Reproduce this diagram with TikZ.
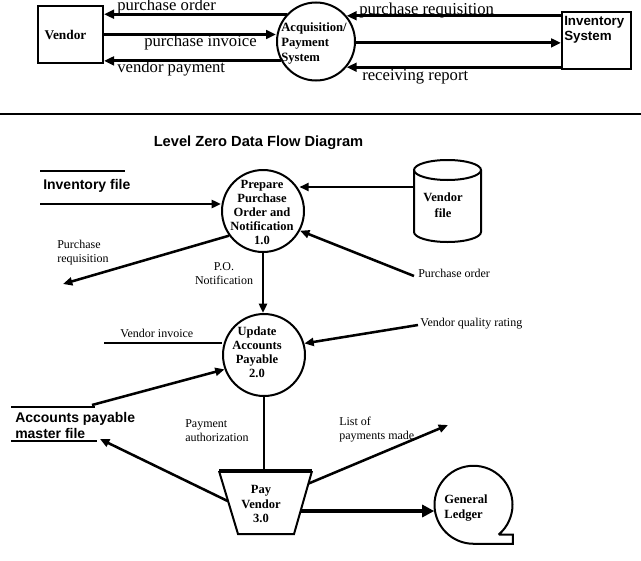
\documentclass[tikz,border=0pt]{standalone}
\usepackage{fontspec}
\setmainfont{Liberation Serif}
\newfontfamily\arialf{Liberation Sans}
\usetikzlibrary{arrows.meta,calc}
\begin{document}
\begin{tikzpicture}[x=0.75pt,y=-0.75pt,
  box/.style={draw,line width=1.5pt,inner sep=0pt},
  proc/.style={draw,circle,line width=1.5pt,inner sep=0pt,minimum size=#1*0.75pt},
  thinline/.style={line width=1.5pt},
  arrT/.style={line width=2.2pt,-{Triangle[length=7.5pt,width=6.5pt]}},
  arrL/.style={line width=1.9pt,-{Triangle[length=7pt,width=6pt]}},
  arrG/.style={line width=3.6pt,-{Triangle[length=9pt,width=9pt]}},
  toplab/.style={font=\fontsize{12.5}{14}\selectfont,inner sep=0pt},
  lab/.style={font=\fontsize{9}{10.5}\selectfont,inner sep=0pt},
  ptext/.style={font=\bfseries\fontsize{9.4}{10.4}\selectfont,align=center,inner sep=0pt},
  sanslab/.style={font=\arialf\bfseries\fontsize{10.5}{12}\selectfont,inner sep=0pt}
]
\useasboundingbox (0,0) rectangle (641,560);

% ---------- context diagram ----------
\node[box,minimum width=65*0.75pt,minimum height=57*0.75pt] (vendor) at (70.5,34.5) {};
\node[font=\bfseries\fontsize{10}{12}\selectfont,inner sep=0pt] (vendort) at (65.5,35) {Vendor};
\node[proc=78] (acq) at (316,41.5) {};
\node[font=\bfseries\fontsize{9.5}{10.9}\selectfont,align=left,anchor=west,inner sep=0pt] (acqt) at (281,43.5) {Acquisition/\\Payment\\System};
\node[box,minimum width=69*0.75pt,minimum height=57*0.75pt] (inv) at (596.5,40.5) {};
\node[font=\arialf\bfseries\fontsize{10}{11.25}\selectfont,align=left,anchor=west,inner sep=0pt] (invt) at (564,29.5) {Inventory\\System};

\draw[arrT] (acq.137) -- (acq.137 -| vendor.east);
\draw[arrT] (vendor.east) -- (vendor.east -| acq.west);
\draw[arrT] (acq.209) -- (acq.209 -| vendor.east);
\draw[arrT] (acq.40 -| inv.west) -- (acq.40);
\draw[arrT] (acq.-2) -- (acq.-2 -| inv.west);
\draw[arrT] (acq.-40 -| inv.west) -- (acq.-40);

\node[toplab,anchor=base west] (lpo) at (117,11) {purchase order};
\node[toplab,anchor=base west] (lpi) at (144,47) {purchase invoice};
\node[toplab,anchor=base west] (lvp) at (117,73) {vendor payment};
\node[toplab,anchor=base west] (lpr) at (359,15) {purchase requisition};
\node[toplab,anchor=base west] (lrr) at (362,80) {receiving report};

\coordinate (divl) at (0,114);
\coordinate (divr) at (641,114);
\draw[line width=1.2pt] (divl) -- (divr);

% ---------- level zero ----------
\node[font=\arialf\bfseries\fontsize{11}{13}\selectfont,inner sep=0pt] (title) at (258.5,143) {Level Zero Data Flow Diagram};

% Inventory file store
\coordinate (if-tl) at (40,171);
\coordinate (if-tr) at (125,171);
\coordinate (if-bl) at (40,204);
\draw[thinline] (if-tl) -- (if-tr);
\node[sanslab,anchor=west] (ift) at (43,186) {Inventory file};

% process 1.0
\node[proc=82] (c1) at (263,211) {};
\node[ptext] (c1t) at (262,212.5) {Prepare\\Purchase\\Order and\\Notification\\1.0};
\draw[arrL] (if-bl) -- (if-bl -| c1.west);

% Vendor file
\node[minimum width=67*0.75pt,minimum height=82*0.75pt,inner sep=0pt] (vfile) at (447.5,201) {};
\draw[thinline] (447.5,170) ellipse [x radius=25.125pt,y radius=7.5pt];
\draw[thinline] (414,170) -- (414,232) arc[start angle=180,end angle=360,x radius=25.125pt,y radius=7.5pt] -- (481,170);
\node[ptext,font=\bfseries\fontsize{9.4}{12}\selectfont] (vft) at (443,205) {Vendor\\file};
\coordinate (vfa) at ($(vfile.west)+(0,-14)$);
\draw[arrL] (vfa) -- (vfa -| c1.30);

% Purchase requisition
\coordinate (prq) at (63,284);
\draw[arrL] (c1.216) -- (prq);
\node[lab,anchor=west,align=left,font=\fontsize{9}{10}\selectfont] (lprq) at (57,252.5) {Purchase\\requisition};

% Purchase order
\coordinate (por) at (414,276);
\draw[arrL] (por) -- (c1.-28);
\node[lab,anchor=west] (lpor) at (418,273) {Purchase order};

% process 2.0
\node[proc=82] (c2) at (264,355) {};
\node[ptext] (c2t) at (257,352.5) {Update\\Accounts\\Payable\\2.0};

% P.O. Notification
\draw[arrL] (c1.south) -- (c1.south |- c2.north);
\node[lab,align=center] (lpon) at (224,274) {P.O.\\Notification};

% Vendor invoice
\coordinate (vi) at (104,343);
\draw[thinline] (vi) -- (vi -| c2.west);
\node[lab,anchor=west] (lvi) at (120,333) {Vendor invoice};

% Vendor quality rating
\coordinate (vq) at (418,325);
\draw[arrL] (vq) -- (c2.16);
\node[lab,anchor=west] (lvq) at (420,324) {Vendor quality rating};

% Accounts payable master file
\coordinate (ap-tl) at (11,407);
\coordinate (ap-tr) at (95,407);
\coordinate (ap-bl) at (11,441);
\coordinate (ap-br) at (97,441);
\draw[thinline] (ap-tl) -- (ap-tr);
\draw[thinline] (ap-bl) -- (ap-br);
\node[sanslab,anchor=west,align=left] (apt) at (15,425) {Accounts payable\\master file};
\draw[arrL] ($(ap-tr)+(-3,-2)$) -- (c2.200);

% process 3.0 (trapezoid)
\coordinate (pv-tl) at (219,471);
\coordinate (pv-tr) at (312,471);
\coordinate (pv-br) at (294,534);
\coordinate (pv-bl) at (238,534);
\draw[line width=1.5pt] (pv-tl) -- (pv-bl) -- (pv-br) -- (pv-tr);
\draw[line width=2.4pt] (pv-tl) -- (pv-tr);
\node[ptext,font=\bfseries\fontsize{9.4}{10.9}\selectfont] (pvt) at (261,504) {Pay\\Vendor\\3.0};

% Payment authorization
\draw[thinline] (c2.south) -- (c2.south |- pv-tl);
\node[lab,anchor=west,align=left,font=\fontsize{9}{11}\selectfont] (lpa) at (185,430.5) {Payment\\authorization};

% to AP master file
\coordinate (pv-l) at ($(pv-tl)!0.48!(pv-bl)$);
\draw[arrL] (pv-l) -- ($(ap-br)+(3,-2)$);

% List of payments made
\coordinate (pv-r) at ($(pv-tr)!0.2!(pv-br)$);
\coordinate (lpm) at (448,425);
\draw[arrL] (pv-r) -- (lpm);
\node[lab,anchor=west,align=left,font=\fontsize{9}{11}\selectfont] (llp) at (339,429.5) {List of\\payments made};

% General Ledger
\node[circle,minimum size=78*0.75pt,inner sep=0pt] (gl) at (473.5,504.5) {};
\draw[line width=1.5pt] (gl.-50) -- (gl.-50 -| gl.east) -- (gl.east |- gl.south) -- (gl.south)
  arc[start angle=-90,end angle=-410,radius=29.25pt];
\node[ptext,align=left,font=\bfseries\fontsize{9.4}{11.25}\selectfont] (glt) at (466,508.5) {General\\Ledger};
\coordinate (pv-gl) at ($(pv-tr)!0.635!(pv-br)$);
\draw[arrG] (pv-gl) -- (pv-gl -| gl.west);
\end{tikzpicture}
\end{document}
